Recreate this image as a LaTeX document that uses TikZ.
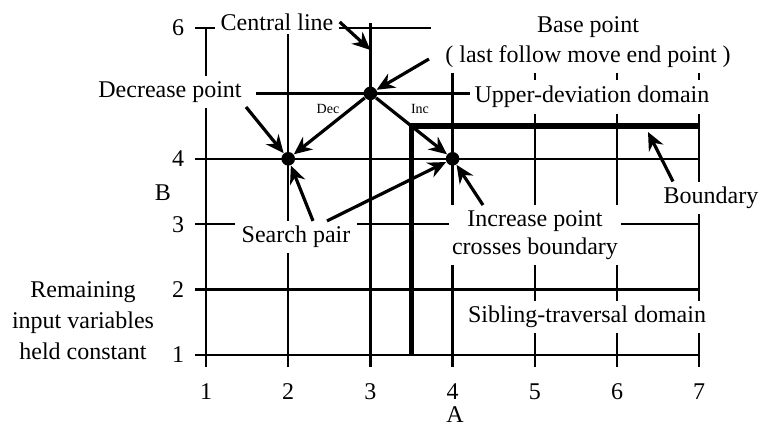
\documentclass[tikz,border=0pt]{standalone}
\usepackage{fontspec}
\setmainfont{Liberation Serif}
\usetikzlibrary{arrows.meta,calc}
\begin{document}
\begin{tikzpicture}[x=0.5pt,y=-0.5pt,
  gridline/.style={line width=1.15pt},
  boundline/.style={line width=2.8pt},
  txt/.style={font=\fontsize{12}{15}\selectfont, align=center},
  box/.style={txt, fill=white, inner xsep=2.5pt, inner ysep=2.6pt},
  ann/.style={line width=1.6pt, -{Stealth[length=9pt,width=8pt]}},
  dot/.style={circle, fill=black, inner sep=0pt, minimum size=6.8pt},
  small/.style={font=\fontsize{7}{8}\selectfont}
]
\useasboundingbox (0,0) rectangle (759,428);
% grid
\foreach \i in {1,2,4,5,6,7} { \draw[gridline] ({206+(\i-1)*82.2},367) -- ({206+(\i-1)*82.2},28); }
\draw[gridline] (370.4,367) -- (370.4,23);
\foreach \j in {1,...,6} { \draw[gridline] (195,{355-(\j-1)*65.4}) -- (699.2,{355-(\j-1)*65.4}); }
% boundary
\draw[boundline] (411.5,355) -- (411.5,126.1) -- (699.2,126.1);
% tick labels
\foreach \i in {1,...,7} { \node[txt] (x\i) at ({206+(\i-1)*82.2},392) {\i}; }
\foreach \j in {1,2,3,4,6} { \node[txt] (y\j) at (178,{355-(\j-1)*65.4}) {\j}; }
\node[txt, inner sep=0pt] (alab) at (455,415) {A};
\node[txt] (blab) at (163,193) {B};
% text boxes
\node[box, inner xsep=3pt, inner ysep=2pt] (central) at (277,22) {Central line};
\node[box, inner xsep=7pt, inner ysep=2.5pt] (basept) at (588,42) {Base point\\( last follow move end point )};
\node[box, inner xsep=7pt] (decr) at (170,92) {Decrease point};
\node[box, inner xsep=2.5pt, inner ysep=3pt] (upper) at (592,97) {Upper-deviation domain};
\node[box, inner xsep=3.5pt, inner ysep=2.4pt] (search) at (296,237) {Search pair};
\node[box, inner xsep=1.5pt, inner ysep=2.5pt, font=\fontsize{12}{14}\selectfont] (incr) at (535,235) {Increase point\\crosses boundary};
\node[box] (bound) at (711,198) {Boundary};
\node[box] (sib) at (587,317) {Sibling-traversal domain};
\node[txt, font=\fontsize{12}{15.5}\selectfont] (remain) at (83,321) {Remaining\\input variables\\held constant};
% points
\node[dot] (base) at (370.4,93.4) {};
\node[dot] (dec) at (288.2,158.8) {};
\node[dot] (inc) at (452.6,158.8) {};
\node[small] (declab) at (328,109) {Dec};
\node[small] (inclab) at (420,109) {Inc};
% connectors
\draw[ann] (base) -- (dec);
\draw[ann] (base) -- (inc);
\coordinate (cl) at (370.4,50);
\coordinate (bd) at (648,132);
\draw[ann] (central.east) -- (cl);
\draw[ann] ([xshift=-1pt,yshift=-1pt]basept.south west |- 0,57) -- (base);
\draw[ann] ([xshift=-5pt,yshift=-1pt]decr.east |- 0,105) -- (dec);
\draw[ann] ([xshift=8.5pt]search.north) -- (dec);
\draw[ann] ([xshift=15.5pt]search.north) -- (inc);
\draw[ann] ([xshift=-26pt]incr.north) -- (inc);
\draw[ann] ([xshift=-19pt]bound.north) -- (bd);
\end{tikzpicture}
\end{document}
